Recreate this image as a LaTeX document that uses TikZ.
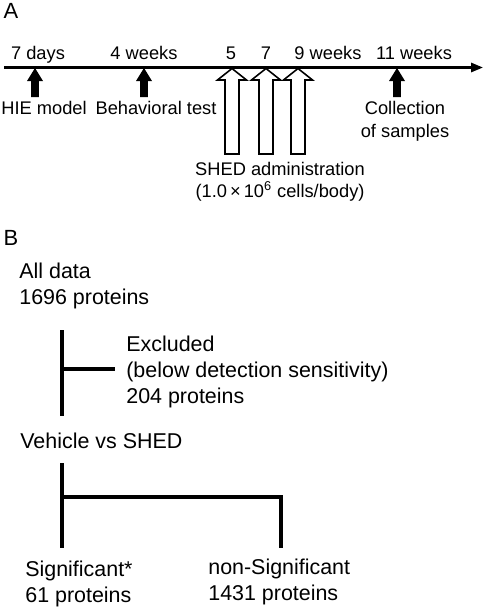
\documentclass[tikz,border=0pt]{standalone}
\usepackage{fontspec}
\setmainfont{Liberation Sans}
\usetikzlibrary{arrows.meta}

\begin{document}
\begin{tikzpicture}[
    x=0.02cm, y=-0.02cm,
    panel/.style={inner sep=0pt, font=\fontsize{12.5}{15}\selectfont},
    lbl/.style={inner sep=0pt, anchor=base, align=center, font=\fontsize{10.4}{12.2}\selectfont},
    txt/.style={inner sep=0pt, anchor=base west, align=left, font=\fontsize{12.2}{14.7}\selectfont},
    axis/.style={line width=1.4pt, -{Triangle[width=5.2pt, length=6.8pt]}},
    dose/.style={draw, line width=0.9pt, fill=white, line join=miter},
    tree/.style={line width=1.75pt}
  ]
    \useasboundingbox (0,0) rectangle (487,609);

    % panel A: time line
    \node[panel] (pa) at (11,11) {A};
    \coordinate (t0) at (4,67.5);
    \coordinate (t1) at (483,67.5);
    \draw[axis] (t0) -- (t1);

    \node[lbl] (d7)  at (38,59)  {7 days};
    \node[lbl] (w4)  at (144,59) {4 weeks};
    \node[lbl] (w5)  at (231,59) {5};
    \node[lbl] (w7)  at (266,59) {7};
    \node[lbl] (w9)  at (328,59) {9 weeks};
    \node[lbl] (w11) at (414,59) {11 weeks};

    % black markers
    \foreach \c in {35,144,397}
      \fill (\c,68) -- ++(8,13) -- ++(-4.2,0) -- ++(0,16) -- ++(-7.6,0) -- ++(0,-16) -- ++(-4.2,0) -- cycle;
    % SHED doses
    \foreach \c in {232,266,298}
      \draw[dose] (\c,68.5) -- ++(14.5,11.5) -- ++(-7.5,0) -- ++(0,74) -- ++(-14,0) -- ++(0,-74) -- ++(-7.5,0) -- cycle;

    \node[lbl] (hie) at (44,114)  {HIE model};
    \node[lbl] (beh) at (156,114) {Behavioral test};
    \node[lbl, font=\fontsize{10.4}{12.6}\selectfont] (col) at (405,137) {Collection\\of samples};
    \node[lbl] (shed) at (280,197) {SHED administration\\(1.0\,×\,10\textsuperscript{6} cells/body)};

    % panel B: protein filtering
    \node[panel] (pb) at (11,238) {B};
    \node[txt] (all) at (19,304) {All data\\1696 proteins};
    \node[txt] (exc) at (126,403) {Excluded\\(below detection sensitivity)\\204 proteins};
    \node[txt] (cmp) at (20,448) {Vehicle vs SHED};
    \node[txt] (sig) at (25,602) {Significant*\\61 proteins};
    \node[txt] (non) at (208,600) {non-Significant\\1431 proteins};

    \coordinate (a1) at (62,330);
    \coordinate (a2) at (62,416);
    \coordinate (a3) at (62,369);
    \coordinate (a4) at (115,369);
    \draw[tree] (a1) -- (a2);
    \draw[tree] (a3) -- (a4);

    \coordinate (b1) at (62,463);
    \coordinate (b2) at (62,548);
    \coordinate (b3) at (62,497);
    \coordinate (b4) at (281,548);
    \draw[tree] (b1) -- (b2);
    \draw[tree] (b3) -| (b4);
\end{tikzpicture}
\end{document}
